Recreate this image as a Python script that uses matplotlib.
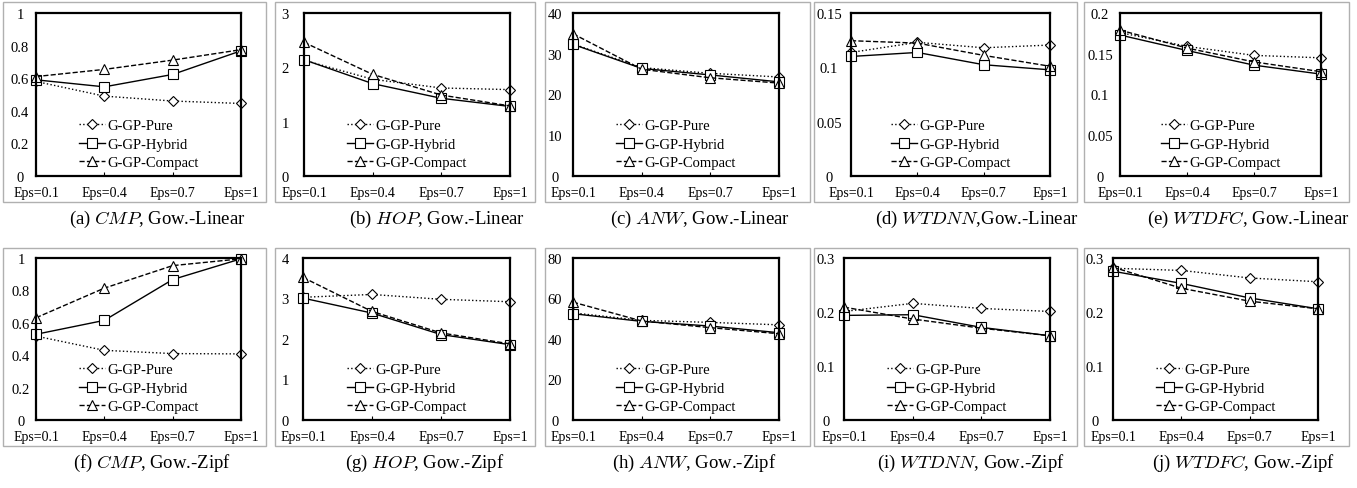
import matplotlib
matplotlib.use("Agg")
import matplotlib.pyplot as plt
from matplotlib.patches import Rectangle

plt.rcParams['font.family'] = 'Liberation Serif'
plt.rcParams['mathtext.fontset'] = 'cm'

eps_labels = ['Eps=0.1', 'Eps=0.4', 'Eps=0.7', 'Eps=1']
series_names = ['G-GP-Pure', 'G-GP-Hybrid', 'G-GP-Compact']

# values per panel: pure, hybrid, compact
cmp_linear = [[0.58, 0.49, 0.46, 0.445], [0.59, 0.547, 0.623, 0.768], [0.61, 0.654, 0.711, 0.775]]
hop_linear = [[2.13, 1.78, 1.62, 1.59], [2.14, 1.70, 1.43, 1.28], [2.46, 1.87, 1.49, 1.29]]
anw_linear = [[32.4, 26.6, 25.2, 24.3], [32.3, 26.4, 24.8, 23.1], [34.9, 26.2, 24.1, 22.8]]
wtdnn_linear = [[0.1137, 0.123, 0.118, 0.1205], [0.110, 0.1137, 0.1024, 0.0977], [0.1245, 0.1223, 0.111, 0.101]]
wtdfc_linear = [[0.176, 0.159, 0.148, 0.145], [0.173, 0.154, 0.136, 0.125], [0.179, 0.157, 0.140, 0.128]]
cmp_zipf = [[0.518, 0.43, 0.41, 0.408], [0.529, 0.615, 0.867, 0.995], [0.631, 0.814, 0.953, 0.995]]
hop_zipf = [[3.03, 3.10, 2.98, 2.92], [3.01, 2.64, 2.11, 1.86], [3.52, 2.68, 2.15, 1.88]]
anw_zipf = [[52.9, 49.2, 48.2, 47.0], [52.5, 48.7, 46.4, 43.1], [58.2, 48.9, 45.6, 42.6]]
wtdnn_zipf = [[0.201, 0.216, 0.2066, 0.201], [0.1937, 0.195, 0.1715, 0.156], [0.209, 0.187, 0.170, 0.156]]
wtdfc_zipf = [[0.281, 0.277, 0.263, 0.256], [0.2755, 0.253, 0.226, 0.206], [0.283, 0.244, 0.220, 0.206]]

panels = [
    (cmp_linear, 1.0, [0, 0.2, 0.4, 0.6, 0.8, 1], ['0', '0.2', '0.4', '0.6', '0.8', '1'], '(a) $CMP$, Gow.-Linear'),
    (hop_linear, 3.0, [0, 1, 2, 3], ['0', '1', '2', '3'], '(b) $HOP$, Gow.-Linear'),
    (anw_linear, 40.0, [0, 10, 20, 30, 40], ['0', '10', '20', '30', '40'], '(c) $ANW$, Gow.-Linear'),
    (wtdnn_linear, 0.15, [0, 0.05, 0.1, 0.15], ['0', '0.05', '0.1', '0.15'], '(d) $WTDNN$,Gow.-Linear'),
    (wtdfc_linear, 0.2, [0, 0.05, 0.1, 0.15, 0.2], ['0', '0.05', '0.1', '0.15', '0.2'], '(e) $WTDFC$, Gow.-Linear'),
    (cmp_zipf, 1.0, [0, 0.2, 0.4, 0.6, 0.8, 1], ['0', '0.2', '0.4', '0.6', '0.8', '1'], '(f) $CMP$, Gow.-Zipf'),
    (hop_zipf, 4.0, [0, 1, 2, 3, 4], ['0', '1', '2', '3', '4'], '(g) $HOP$, Gow.-Zipf'),
    (anw_zipf, 80.0, [0, 20, 40, 60, 80], ['0', '20', '40', '60', '80'], '(h) $ANW$, Gow.-Zipf'),
    (wtdnn_zipf, 0.3, [0, 0.1, 0.2, 0.3], ['0', '0.1', '0.2', '0.3'], '(i) $WTDNN$, Gow.-Zipf'),
    (wtdfc_zipf, 0.3, [0, 0.1, 0.2, 0.3], ['0', '0.1', '0.2', '0.3'], '(j) $WTDFC$, Gow.-Zipf'),
]

W, H = 1357, 489
fig = plt.figure(figsize=(W / 100, H / 100), dpi=100)

# pixel layout (left, right) of the axes, per row
ax_lr = [
    [(36, 241), (304, 510), (573, 779), (851, 1050), (1120, 1321)],
    [(36, 241), (303, 510), (573, 779), (844, 1050), (1113, 1318)],
]
ylab_gap = [[16, 19, 18, 22, 20], [15, 18, 18, 18, 18]]
frame_x = [(3, 266), (275, 535), (545, 810), (814, 1077), (1084, 1349)]
cap_x = [[157, 437, 700, 977, 1248], [152, 425, 694, 971, 1243]]
rows = [  # axes top, axes bottom, frame top, frame bottom, caption y
    (14, 177, 3, 203, 219),
    (259, 421, 249, 447, 463),
]

styles = [
    dict(linestyle=':', marker='D', markersize=5),
    dict(linestyle='-', marker='s', markersize=6.5),
    dict(linestyle='--', marker='^', markersize=7),
]

for i, (vals, ymax, yt, ytl, cap) in enumerate(panels):
    r, c = divmod(i, 5)
    top, bot, ftop, fbot, capy = rows[r]
    fx0, fx1 = frame_x[c]
    fig.patches.append(Rectangle((fx0 / W, 1 - fbot / H), (fx1 - fx0) / W, (fbot - ftop) / H,
                                 transform=fig.transFigure, fill=False,
                                 edgecolor='#b0b0b0', linewidth=1.0))
    l, rr = ax_lr[r][c]
    ax = fig.add_axes([l / W, 1 - bot / H, (rr - l) / W, (bot - top) / H])
    for k in range(3):
        ax.plot(range(4), vals[k], color='black', linewidth=1.0,
                markerfacecolor='white', markeredgecolor='black', markeredgewidth=0.8,
                label=series_names[k], clip_on=False, **styles[k])
    ax.set_xlim(0, 3)
    ax.set_ylim(0, ymax)
    ax.set_xticks(range(4))
    ax.set_xticklabels(eps_labels, fontsize=10)
    ax.set_yticks(yt)
    ax.set_yticklabels(ytl, fontsize=10.5)
    for lab in ax.get_yticklabels():
        lab.set_horizontalalignment('center')
    ax.tick_params(axis='x', direction='in', length=3, pad=7)
    ax.tick_params(axis='y', direction='in', length=0, pad=ylab_gap[r][c] * 0.72)
    for s in ax.spines.values():
        s.set_linewidth(1.6)
    ax.legend(loc='lower center', bbox_to_anchor=(0.5, -0.02), frameon=False,
              fontsize=10.5, handlelength=1.8, handletextpad=0.15, labelspacing=0.35,
              borderaxespad=0.3)
    fig.text(cap_x[r][c] / W, 1 - capy / H, cap, ha='center', va='center', fontsize=13.5)

fig.savefig('out.png', dpi=100)
